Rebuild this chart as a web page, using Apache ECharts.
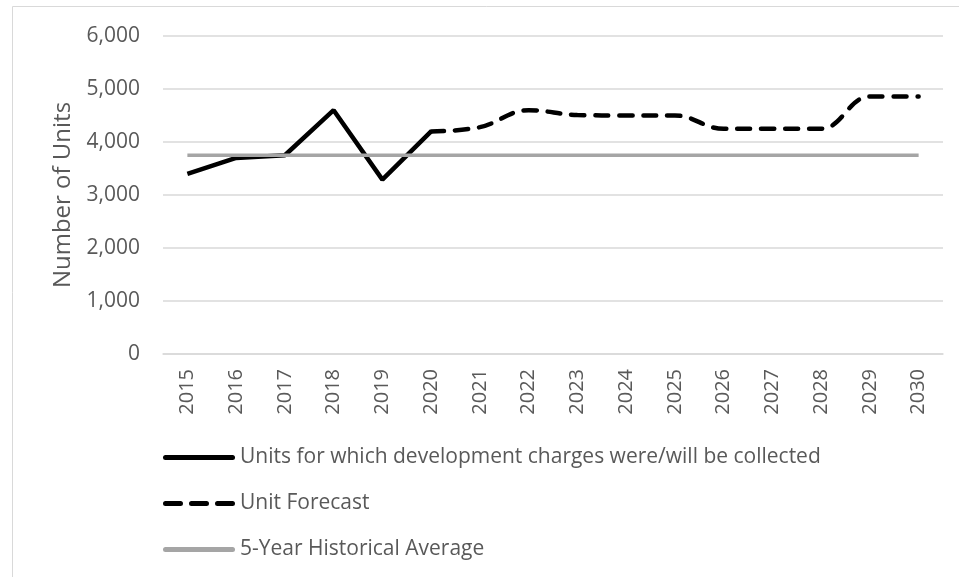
<!DOCTYPE html>
<html>
<head>
<meta charset="utf-8">
<script src="https://cdn.jsdelivr.net/npm/echarts@6/dist/echarts.min.js"></script>
<style>
  html, body { margin: 0; padding: 0; background: #fff; }
  #chart { width: 959px; height: 577px; }
</style>
</head>
<body>
<div id="chart"></div>
<script>
const years = ['2015', '2016', '2017', '2018', '2019', '2020', '2021', '2022',
  '2023', '2024', '2025', '2026', '2027', '2028', '2029', '2030']

// actual collected units (solid line, stops at 2020)
const collected = [3400, 3700, 3750, 4600, 3290, 4200, null, null,
  null, null, null, null, null, null, null, null]

// forecast picks up where the actuals end
const forecast = [null, null, null, null, null, 4200, 4280, 4600,
  4510, 4500, 4500, 4250, 4250, 4250, 4860, 4860]

const historicalAvg = [3750, 3750, 3750, 3750, 3750, 3750, 3750, 3750,
  3750, 3750, 3750, 3750, 3750, 3750, 3750, 3750]

const yTicks = [0, 1000, 2000, 3000, 4000, 5000, 6000]

const names = [
  'Units for which development charges were/will be collected',
  'Unit Forecast',
  '5-Year Historical Average'
]

const font = 'Open Sans'

// rounded bar segment for legend icons
function seg(a, b) {
  const r = 2.5
  return 'M' + (a + r) + ',0 H' + (b - r) + ' A' + r + ',' + r + ' 0 0 1 ' + (b - r) + ',5' +
    ' H' + (a + r) + ' A' + r + ',' + r + ' 0 0 1 ' + (a + r) + ',0 Z'
}
const solidIcon = 'path://' + seg(0, 72)
const dashIcon = 'path://' + seg(0, 20) + ' ' + seg(26, 46) + ' ' + seg(52, 72)

const chart = echarts.init(document.getElementById('chart'))

chart.setOption({
  animation: false,
  textStyle: { fontFamily: font },
  graphic: [{
    type: 'rect',
    shape: { x: 12.5, y: 6.5, width: 1000, height: 700 },
    style: { fill: 'none', stroke: '#d9d9d9', lineWidth: 1 },
    silent: true
  }],
  grid: { left: 163, right: 16, top: 36, bottom: 223 },
  legend: {
    orient: 'vertical',
    left: 158,
    top: 442,
    itemWidth: 72,
    itemHeight: 5,
    itemGap: 25,
    symbolKeepAspect: false,
    data: [
      { name: names[0], icon: solidIcon },
      { name: names[1], icon: dashIcon },
      { name: names[2], icon: solidIcon, itemStyle: { color: '#a5a5a5' } }
    ],
    textStyle: { color: '#595959', fontSize: 21, fontFamily: font }
  },
  xAxis: {
    type: 'category',
    data: years,
    boundaryGap: true,
    axisLine: { lineStyle: { color: '#d9d9d9', width: 1.5 } },
    axisTick: { show: false },
    axisLabel: { rotate: 90, color: '#595959', fontSize: 20, margin: 15 }
  },
  yAxis: {
    type: 'value',
    min: yTicks[0],
    max: yTicks[yTicks.length - 1],
    interval: 1000,
    name: 'Number of Units',
    nameLocation: 'middle',
    nameGap: 88,
    nameTextStyle: { color: '#595959', fontSize: 24, fontFamily: font },
    axisLine: { show: false },
    axisTick: { show: false },
    axisLabel: {
      color: '#595959',
      fontSize: 21,
      margin: 23,
      formatter: v => v.toLocaleString('en-US')
    },
    splitLine: { lineStyle: { color: '#d9d9d9', width: 1.5 } }
  },
  series: [
    {
      name: names[0],
      type: 'line',
      data: collected,
      symbol: 'none',
      lineStyle: { color: '#000', width: 4.5 },
      itemStyle: { color: '#000' }
    },
    {
      name: names[1],
      type: 'line',
      data: forecast,
      symbol: 'none',
      smooth: 0.4,
      lineStyle: { color: '#000', width: 4.5, type: [13, 11], cap: 'round' },
      itemStyle: { color: '#000' }
    },
    {
      name: names[2],
      type: 'line',
      data: historicalAvg,
      symbol: 'none',
      lineStyle: { color: '#a5a5a5', width: 3.5 },
      itemStyle: { color: '#a5a5a5' }
    }
  ]
})
</script>
</body>
</html>
